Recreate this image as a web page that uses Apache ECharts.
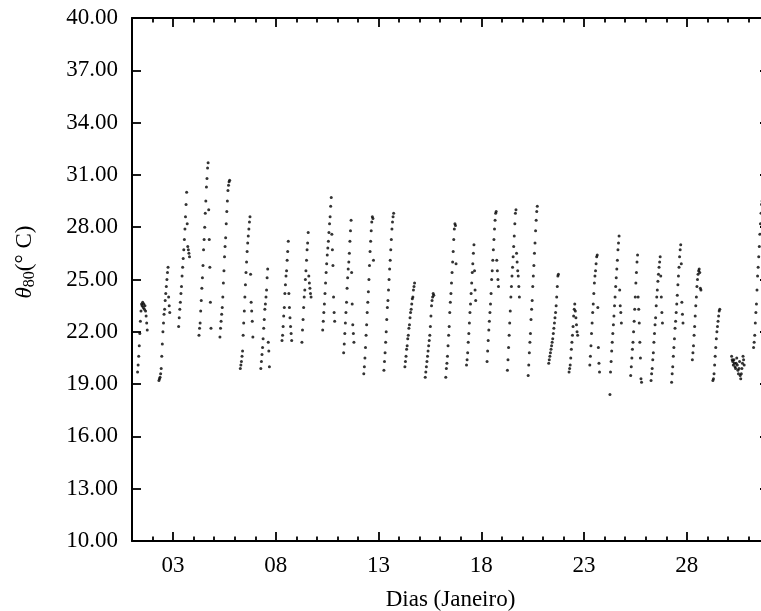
<!DOCTYPE html>
<html><head><meta charset="utf-8">
<script src="https://cdn.jsdelivr.net/npm/echarts@6/dist/echarts.min.js"></script>
<style>html,body{margin:0;padding:0;background:#fff}#c{width:761px;height:611px}</style>
</head><body><div id="c"></div>
<script>
// Tick positions (days of January) and temperature ticks
const xTickDays = [3, 8, 13, 18, 23, 28];
const xMinorDays = [1,2,4,5,6,7,9,10,11,12,14,15,16,17,19,20,21,22,24,25,26,27,29,30,31,32];
const yTicks = [10, 13, 16, 19, 22, 25, 28, 31, 34, 37, 40];

// sampling interval of the readings (days)
const sampleStep = 1 / 36;
// time (day of January) of the first reading of each daily block
const blockStart = [1.27, 2.31, 3.27, 4.26, 5.28, 6.27, 7.27, 8.30, 9.27, 10.28, 11.30, 12.28, 13.26, 14.28, 15.27, 16.27, 17.28, 18.28, 19.27, 20.28, 21.28, 22.27, 23.28, 24.26, 25.27, 26.26, 27.26, 28.27, 29.27, 30.18, 31.25];

// readings (°C) of each daily block, in time order
const d01 = [19.7,20.1,20.6,21.2,21.9,22.6,23.2,23.6,23.5,23.7,23.4,23.6,23.3,23.5,23.2,22.9,22.5,22.1];
const d02 = [19.2,19.3,19.4,19.6,19.9,20.6,21.3,22.0,22.5,23.0,23.3,23.8,24.2,24.6,25.0,25.4,25.7,24.0,23.5,23.1];
const d03 = [22.3,22.8,23.3,23.7,24.2,24.6,25.2,25.7,26.2,26.7,27.3,27.9,28.6,29.3,30.0,28.2,26.9,26.7,26.5,26.3];
const d04 = [21.8,22.2,22.5,23.2,23.8,24.5,25.1,25.8,26.7,27.3,28.0,28.8,29.5,30.3,30.8,31.4,31.7,29.0,27.3,25.7,23.7,22.2];
const d05 = [21.7,22.2,22.6,23.0,23.4,24.0,24.8,25.5,26.3,26.9,27.4,28.2,28.9,29.5,30.1,30.4,30.6,30.7];
const d06 = [19.9,20.1,20.3,20.6,20.9,21.8,22.5,23.2,24.0,24.7,25.4,26.0,26.6,27.1,27.5,27.9,28.3,28.6,25.3,23.7,23.2,22.6,21.7];
const d07 = [19.9,20.3,20.7,21.1,21.6,22.2,22.7,23.3,23.6,24.0,24.4,25.1,25.6,21.4,20.9,20.0];
const d08 = [21.5,21.8,22.3,22.9,23.4,24.2,24.7,25.2,25.5,26.1,26.6,27.2,24.2,23.4,22.8,22.3,21.9,21.5];
const d09 = [21.4,22.1,22.7,23.4,24.0,24.4,25.0,25.5,26.1,26.7,27.1,27.7,25.2,24.8,24.5,24.2,24.0];
const d10 = [22.1,22.6,23.1,23.6,24.2,24.8,25.4,25.9,26.4,26.8,27.2,27.7,28.2,28.6,29.2,29.7,27.6,26.7,25.8,24.0,23.1,22.6];
const d11 = [20.8,21.3,21.9,22.5,23.1,23.7,24.5,25.1,25.6,26.0,26.5,27.2,27.8,28.4,25.4,23.6,22.4,21.9,21.4];
const d12 = [19.6,20.0,20.5,21.1,21.8,22.4,23.1,23.7,24.3,25.0,25.8,26.6,27.2,27.8,28.3,28.6,28.5,26.1];
const d13 = [19.8,20.3,20.8,21.4,22.0,22.7,23.4,23.8,24.4,25.0,25.6,26.1,26.7,27.3,27.9,28.3,28.6,28.8];
const d14 = [20.0,20.3,20.6,21.0,21.2,21.6,21.8,22.2,22.4,22.8,23.1,23.3,23.6,23.9,24.0,24.4,24.6,24.8];
const d15 = [19.4,19.7,20.0,20.3,20.6,20.9,21.2,21.5,21.8,22.3,22.9,23.5,23.8,24.0,24.2,24.1];
const d16 = [19.4,19.9,20.2,20.6,21.2,21.8,22.3,23.1,23.7,24.2,24.8,25.4,26.0,26.6,27.3,27.9,28.2,28.1,25.9];
const d17 = [20.1,20.4,20.8,21.4,21.9,22.5,23.1,23.6,24.2,24.8,25.4,25.9,26.5,27.0,25.5,24.4,23.8];
const d18 = [20.3,20.9,21.5,22.1,22.6,23.1,23.6,24.2,25.0,25.5,26.1,26.7,27.3,27.9,28.4,28.8,28.9,26.1,25.5,25.0,24.6];
const d19 = [19.8,20.4,21.1,21.8,22.5,23.2,24.0,24.6,25.2,25.7,26.3,26.9,27.5,28.2,28.8,29.0,26.5,26.0,25.5,25.2,24.6,24.0];
const d20 = [19.5,20.1,20.8,21.4,21.9,22.7,23.3,23.8,24.6,25.2,25.8,26.5,27.1,27.8,28.4,28.9,29.2];
const d21 = [20.2,20.4,20.6,20.8,21.0,21.2,21.4,21.6,21.9,22.2,22.5,22.8,23.1,23.5,24.0,24.6,25.2,25.3];
const d22 = [19.7,19.9,20.1,20.5,21.0,21.4,21.8,22.3,22.9,23.3,23.6,23.2,22.8,22.4,22.0,21.8];
const d23 = [20.1,20.6,21.2,21.9,22.5,23.1,23.6,24.2,24.8,25.2,25.5,25.9,26.3,26.4,23.4,21.1,20.2,19.7];
const d24 = [18.4,19.7,20.3,20.9,21.4,21.9,22.4,22.9,23.5,24.0,24.6,25.1,25.6,26.1,26.7,27.1,27.5,24.4,23.5,23.1,22.5];
const d25 = [19.5,20.0,20.5,21.0,21.4,22.0,22.6,23.3,24.0,24.8,25.4,26.0,26.4,24.0,23.3,22.5,21.4,20.5,19.3,19.1];
const d26 = [19.2,19.6,19.9,20.4,20.8,21.4,21.9,22.4,22.8,23.5,24.0,24.4,24.9,25.3,25.7,26.0,26.3,25.2,24.0,23.1,22.5];
const d27 = [19.1,19.6,20.0,20.6,21.1,21.6,22.2,22.6,23.1,23.6,24.1,24.7,25.2,25.7,26.3,26.7,27.0,25.9,23.7,23.0,22.5];
const d28 = [20.4,20.8,21.2,21.8,22.3,22.9,23.5,24.0,24.6,25.0,25.3,25.5,25.6,25.4,24.5,24.4];
const d29 = [19.2,19.3,19.6,20.1,20.6,21.1,21.6,22.0,22.3,22.6,22.9,23.2,23.3];
const d30 = [20.6,20.4,20.3,20.1,20.4,20.2,20.0,19.9,20.2,20.5,20.1,19.8,19.6,19.9,20.3,19.5,19.3,19.6,19.9,20.2,20.6,20.4,20.1];
const d31 = [21.1,21.4,21.8,22.5,23.1,23.6,24.4,25.2,25.7,26.3,26.9,27.6,28.2,28.8,29.3,29.5];

const blocks = [d01,d02,d03,d04,d05,d06,d07,d08,d09,d10,d11,d12,d13,d14,d15,d16,d17,d18,d19,d20,d21,d22,d23,d24,d25,d26,d27,d28,d29,d30,d31];

const points = [];
blocks.forEach((vals, k) => {
  vals.forEach((v, i) => points.push([blockStart[k] + i * sampleStep, v]));
});

const font = 'Liberation Serif';
const axisLineStyle = { color: '#000', width: 2 };
const tickStyle = { color: '#000', width: 1.8 };

function xAx(pos, ticks, len, showLine, extra) {
  return Object.assign({
    type: 'value', min: 1, max: 32, position: pos,
    axisLine: { show: showLine, onZero: false, lineStyle: axisLineStyle },
    axisTick: { show: true, inside: true, length: len, customValues: ticks, lineStyle: tickStyle },
    axisLabel: { show: false },
    splitLine: { show: false }
  }, extra || {});
}

const chart = echarts.init(document.getElementById('c'));
chart.setOption({
  animation: false,
  backgroundColor: '#fff',
  grid: { left: 132, right: -8, top: 18, bottom: 70, containLabel: false, outerBoundsMode: 'none' },
  xAxis: [
    xAx('bottom', xTickDays, 9, true, {
      axisLabel: { show: true, customValues: xTickDays, formatter: v => String(v).padStart(2, '0'),
        fontFamily: font, fontSize: 23, color: '#000', margin: 13 },
      name: 'Dias (Janeiro)', nameLocation: 'middle', nameGap: 47,
      nameTextStyle: { fontFamily: font, fontSize: 23, color: '#000' }
    }),
    xAx('bottom', xMinorDays, 4.5, false),
    xAx('top', xTickDays, 9, true),
    xAx('top', xMinorDays, 4.5, false)
  ],
  yAxis: [
    {
      type: 'value', min: 10, max: 40, position: 'left',
      axisLine: { show: true, onZero: false, lineStyle: axisLineStyle },
      axisTick: { show: true, inside: true, length: 9, customValues: yTicks, lineStyle: tickStyle },
      axisLabel: { customValues: yTicks, formatter: v => v.toFixed(2), fontFamily: font, fontSize: 23, color: '#000', margin: 14 },
      splitLine: { show: false }
    },
    {
      type: 'value', min: 10, max: 40, position: 'right',
      axisLine: { show: true, onZero: false, lineStyle: axisLineStyle },
      axisTick: { show: true, inside: true, length: 9, customValues: yTicks, lineStyle: tickStyle },
      axisLabel: { show: false },
      splitLine: { show: false }
    }
  ],
  series: [{
    type: 'scatter', xAxisIndex: 0, yAxisIndex: 0, data: points,
    symbol: 'circle', symbolSize: 3, itemStyle: { color: '#000' }, silent: true
  }],
  graphic: [{
    type: 'text', x: 25, y: 262, rotation: Math.PI / 2,
    style: {
      text: '{t|θ}{s|80}{n|(° C)}', align: 'center', verticalAlign: 'middle', fill: '#000',
      rich: {
        t: { fontFamily: font, fontSize: 23, fontStyle: 'italic', lineHeight: 26, fill: '#000' },
        s: { fontFamily: font, fontSize: 16, lineHeight: 16, verticalAlign: 'bottom', fill: '#000' },
        n: { fontFamily: font, fontSize: 23, lineHeight: 26, fill: '#000' }
      }
    }
  }]
});
</script>
</body></html>
